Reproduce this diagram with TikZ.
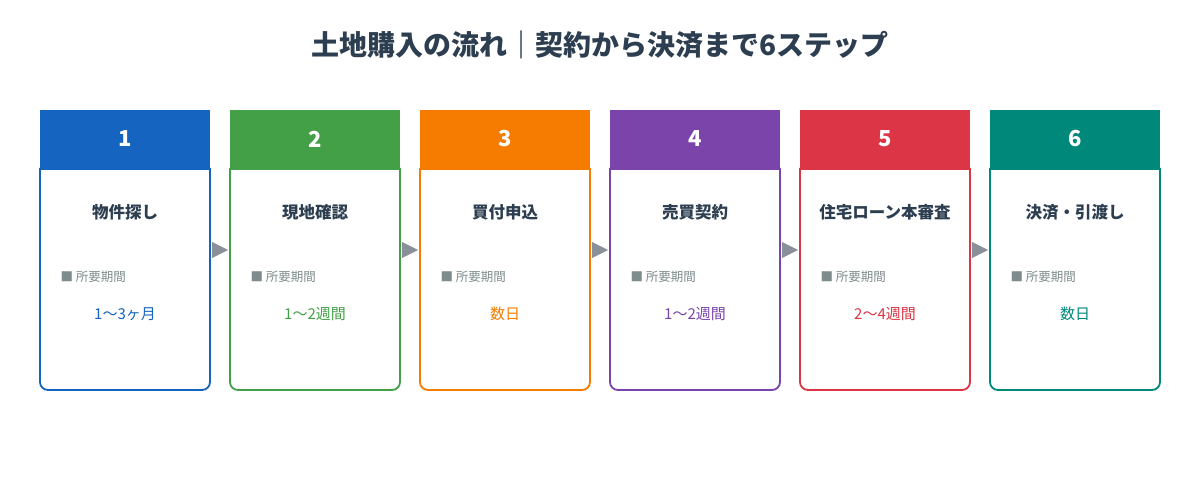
\documentclass[tikz,border=0pt]{standalone}
\usepackage{fontspec}
\setmainfont{Noto Sans CJK JP}
\definecolor{c1}{HTML}{1565C0}
\definecolor{c2}{HTML}{43A047}
\definecolor{c3}{HTML}{F57C00}
\definecolor{c4}{HTML}{7B44AB}
\definecolor{c5}{HTML}{DC3545}
\definecolor{c6}{HTML}{00897B}
\definecolor{ink}{HTML}{2C3E50}
\definecolor{grayt}{HTML}{7F8C8D}
\definecolor{arr}{HTML}{8A9099}
\begin{document}
\begin{tikzpicture}[x=1pt,y=-1pt,
  title/.style={font=\fontsize{28}{32}\selectfont\bfseries,text=ink},
  num/.style={font=\fontsize{22}{26}\selectfont\bfseries,text=white},
  stepname/.style={font=\fontsize{16.5}{20}\selectfont\bfseries,text=ink},
  lab/.style={font=\fontsize{12.5}{15}\selectfont,text=grayt,anchor=west},
  val/.style={font=\fontsize{15}{18}\selectfont},
  tri/.style={fill=arr,draw=none}]
\fill[white] (0,0) rectangle (1200,500);
\useasboundingbox (0,0) rectangle (1200,500);
\node[title] (t) at (600,45) {土地購入の流れ｜契約から決済まで6ステップ};
\foreach \i/\c/\n/\v in {1/c1/物件探し/1〜3ヶ月,2/c2/現地確認/1〜2週間,3/c3/買付申込/数日,4/c4/売買契約/1〜2週間,5/c5/住宅ローン本審査/2〜4週間,6/c6/決済・引渡し/数日}{
  \pgfmathsetmacro{\x}{40+190*(\i-1)}
  \fill[\c] (\x,110) rectangle ++(170,60);
  \draw[\c,line width=1.8pt,rounded corners=8pt] (\x,168) -- (\x,390) -- (\x+170,390) -- (\x+170,168);
  \node[num] (n\i) at (\x+85,139) {\i};
  \node[stepname] (s\i) at (\x+85,212) {\n};
  \node[lab] (l\i) at (\x+17,277) {■ 所要期間};
  \node[val,text=\c] (v\i) at (\x+85,314) {\v};
}
\foreach \i in {1,...,5}{
  \pgfmathsetmacro{\x}{212+190*(\i-1)}
  \fill[arr] (\x,242) -- (\x+16,250) -- (\x,258) -- cycle;
}
\end{tikzpicture}
\end{document}
